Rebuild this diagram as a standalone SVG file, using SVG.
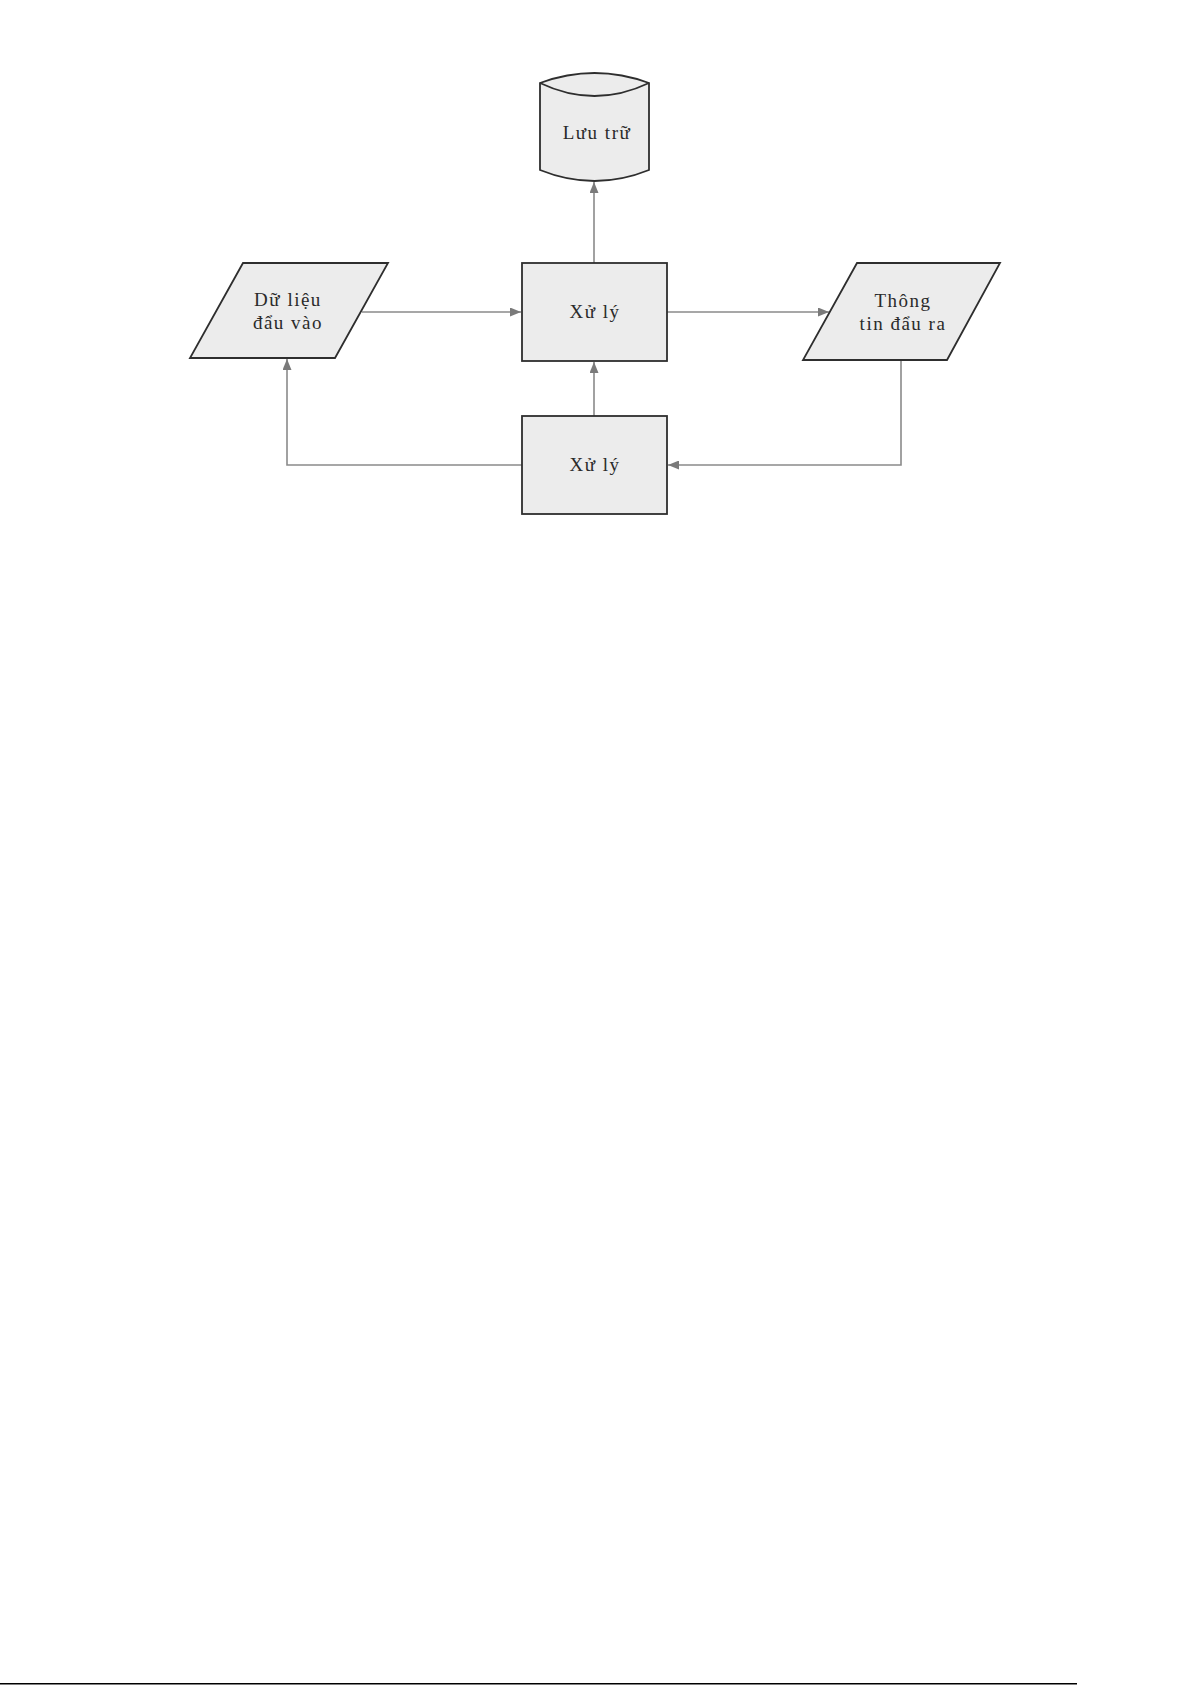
<svg xmlns="http://www.w3.org/2000/svg" width="1192" height="1685" viewBox="0 0 1192 1685">
<style>
.shape{fill:#ececec;stroke:#2e2e2e;stroke-width:1.8;stroke-linejoin:miter}
.conn{fill:none;stroke:#8a8a8a;stroke-width:1.6}
.lbl{font-family:"Liberation Serif","Times New Roman",serif;font-size:19px;letter-spacing:1.5px;fill:#2a2a2a;text-anchor:middle}
</style>
<defs>
<marker id="arr" viewBox="0 0 11 9" refX="11" refY="4.5" markerWidth="11" markerHeight="9" markerUnits="userSpaceOnUse" orient="auto">
<path d="M0,0 L11,4.5 L0,9 z" fill="#7a7a7a"/>
</marker>
</defs>
<rect width="1192" height="1685" fill="#fff"/>
<g id="connectors">
<line class="conn" x1="362" y1="312" x2="521" y2="312" marker-end="url(#arr)"/>
<line class="conn" x1="667" y1="312" x2="829" y2="312" marker-end="url(#arr)"/>
<line class="conn" x1="594" y1="263" x2="594" y2="182" marker-end="url(#arr)"/>
<polyline class="conn" points="901,360 901,465 668,465" marker-end="url(#arr)"/>
<line class="conn" x1="594" y1="416" x2="594" y2="362" marker-end="url(#arr)"/>
<polyline class="conn" points="522,465 287,465 287,359" marker-end="url(#arr)"/>
</g>
<g id="luu-tru">
<path class="shape" d="M540,83 Q594.5,63 649,83 L649,170 Q594.5,192 540,170 Z"/>
<path class="shape" style="fill:none" d="M540,83 Q594.5,109 649,83"/>
<text class="lbl" x="597" y="139">Lưu trữ</text>
</g>
<g id="du-lieu-dau-vao">
<polygon class="shape" points="243,263 388,263 335,358 190,358"/>
<text class="lbl" x="288" y="306">Dữ liệu</text>
<text class="lbl" x="288" y="329">đẩu vào</text>
</g>
<g id="xu-ly-1">
<rect class="shape" x="522" y="263" width="145" height="98"/>
<text class="lbl" x="595" y="318">Xử lý</text>
</g>
<g id="thong-tin-dau-ra">
<polygon class="shape" points="857,263 1000,263 947,360 803,360"/>
<text class="lbl" x="903" y="307">Thông</text>
<text class="lbl" x="903" y="330">tin đẩu ra</text>
</g>
<g id="xu-ly-2">
<rect class="shape" x="522" y="416" width="145" height="98"/>
<text class="lbl" x="595" y="471">Xử lý</text>
</g>
<rect x="0" y="1683" width="1077" height="1.5" fill="#000"/>
</svg>
